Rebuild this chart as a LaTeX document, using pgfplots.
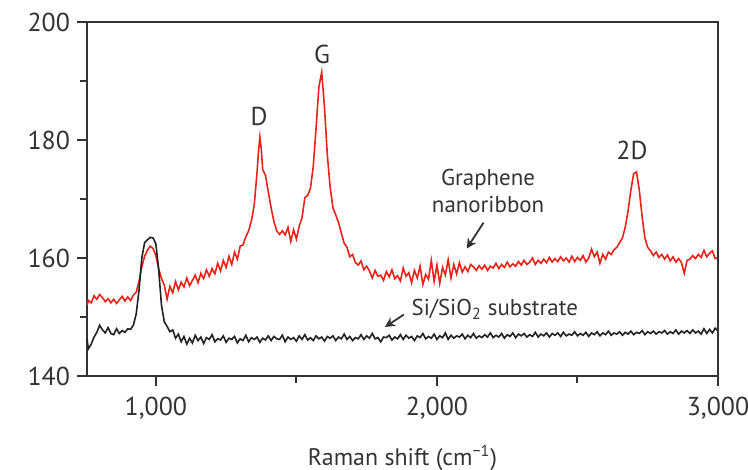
\documentclass[border=0pt]{standalone}
\usepackage{fontspec}
\setmainfont{PT Sans}
\usepackage{pgfplots}
\pgfplotsset{compat=1.18}
\usetikzlibrary{arrows.meta}

\definecolor{specred}{HTML}{E8231A}
\definecolor{specblack}{HTML}{222222}
\definecolor{axisgray}{HTML}{333333}

\begin{document}
\begin{tikzpicture}
\begin{axis}[
    scale only axis,
    width=315.5bp, height=177bp,
    xmin=755, xmax=3000,
    ymin=140, ymax=200,
    xtick={1000,2000,3000},
    xticklabels={{1,000},{2,000},{3,000}},
    minor xtick={1500,2500},
    ytick={140,160,180,200},
    minor ytick={150,170,190},
    tick pos=left,
    tick align=outside,
    major tick length=5bp,
    minor tick length=3.5bp,
    axis line style={axisgray, line width=1bp},
    every tick/.style={axisgray, line width=1bp},
    tick label style={font=\fontsize{13}{15}\selectfont, text=axisgray},
    xticklabel style={yshift=-2bp},
    /pgf/number format/assume math mode=true,
    xlabel={Raman shift (cm\textsuperscript{−1})},
    xlabel style={font=\fontsize{12}{14}\selectfont, text=axisgray, yshift=-6bp},
    clip=false,
]
\addplot[specred, line width=0.8bp] coordinates {
(755,152.0) (760,152.8) (770,152.4) (780,153.6) (790,153.0) (800,153.8) (810,153.3) (820,152.6) (830,153.1) (840,152.4)
(850,153.0) (860,152.3) (870,152.9) (880,153.5) (890,152.7) (900,153.4) (910,152.8) (920,153.7) (930,154.2) (940,156.0)
(950,158.5) (960,160.3) (970,161.3) (980,162.0) (990,161.6) (1000,160.4) (1010,158.2) (1020,156.5) (1030,155.4) (1040,153.0)
(1050,155.2) (1060,154.1) (1070,156.0) (1080,154.6) (1090,155.9) (1100,155.1) (1110,156.6) (1120,155.3) (1130,156.2) (1140,157.1)
(1150,155.8) (1160,157.4) (1170,156.5) (1180,158.0) (1190,156.9) (1200,158.2) (1210,157.3) (1220,159.1) (1230,157.8) (1240,159.6)
(1250,158.4) (1260,160.3) (1270,158.9) (1280,161.0) (1290,159.8) (1300,162.0) (1310,162.2) (1320,163.6) (1330,164.6) (1340,166.3)
(1350,169.0) (1360,174.5) (1365,178.0) (1370,180.5) (1375,178.5) (1380,175.0) (1390,174.0) (1400,171.2) (1410,168.5) (1420,166.2)
(1430,164.6) (1440,164.0) (1450,164.6) (1460,163.9) (1470,165.2) (1480,162.8) (1490,164.8) (1500,163.2) (1510,165.4) (1520,166.8)
(1530,170.2) (1540,170.6) (1550,171.8) (1560,175.5) (1570,182.0) (1580,189.0) (1590,191.5) (1600,185.5) (1610,177.5) (1620,172.0)
(1630,168.5) (1640,167.3) (1650,166.0) (1660,164.2) (1670,162.5) (1680,161.8) (1690,160.2) (1700,160.6) (1710,159.2) (1720,158.8)
(1730,159.5) (1740,158.0) (1750,158.6) (1760,157.8) (1770,156.6) (1780,157.9) (1790,156.9) (1800,157.1) (1810,156.2) (1820,157.7)
(1830,156.8) (1840,158.0) (1850,156.5) (1860,157.0) (1870,156.1) (1880,158.3) (1890,156.9) (1900,157.5) (1910,155.8) (1920,157.9)
(1930,156.6) (1940,158.6) (1950,155.5) (1960,157.2) (1970,156.4) (1980,159.6) (1990,156.0) (2000,158.8) (2010,155.7) (2020,158.4)
(2030,157.1) (2040,159.7) (2050,156.6) (2060,158.9) (2070,157.3) (2080,159.2) (2090,157.6) (2100,158.5) (2110,157.7) (2120,158.9)
(2130,158.5) (2140,157.9) (2150,158.7) (2160,158.1) (2170,158.8) (2180,157.9) (2190,158.6) (2200,158.3) (2210,159.1) (2220,158.2)
(2230,158.9) (2240,158.4) (2250,159.3) (2260,158.5) (2270,159.0) (2280,158.6) (2290,159.4) (2300,158.8) (2310,159.6) (2320,158.9)
(2330,159.3) (2340,160.0) (2350,158.9) (2360,159.6) (2370,159.1) (2380,159.8) (2390,159.2) (2400,160.1) (2410,159.3) (2420,159.9)
(2430,159.4) (2440,160.2) (2450,159.5) (2460,160.0) (2470,159.3) (2480,160.3) (2490,159.4) (2500,160.1) (2510,159.6) (2520,160.4)
(2530,159.3) (2540,160.0) (2550,161.5) (2560,160.2) (2570,161.0) (2580,159.1) (2590,160.6) (2600,159.8) (2610,161.0) (2620,160.6)
(2630,161.4) (2640,161.8) (2650,162.6) (2660,163.4) (2670,165.2) (2680,168.0) (2690,171.5) (2700,174.3) (2710,174.6) (2720,171.5)
(2730,167.0) (2740,163.4) (2750,161.8) (2760,161.2) (2770,160.4) (2780,161.0) (2790,160.1) (2800,160.6) (2810,159.8) (2820,160.5)
(2830,159.5) (2840,160.2) (2850,159.3) (2860,159.9) (2870,159.2) (2880,157.4) (2890,159.6) (2900,159.8) (2910,160.4) (2920,159.9)
(2930,160.6) (2940,160.1) (2950,161.3) (2960,160.2) (2970,160.8) (2980,161.2) (2990,159.9) (3000,160.1)
};
\addplot[specblack, line width=0.8bp] coordinates {
(755,146.3) (760,144.6) (770,145.4) (780,146.6) (790,147.4) (800,148.6) (810,147.8) (820,147.3) (830,148.2) (840,147.2)
(850,147.0) (860,148.0) (870,147.2) (880,147.7) (890,147.4) (900,148.0) (910,147.9) (920,148.6) (930,150.5) (940,154.5)
(950,160.0) (960,162.6) (970,163.1) (980,163.5) (990,163.4) (1000,162.4) (1010,158.0) (1020,152.0) (1030,149.2) (1040,148.4)
(1050,147.5) (1060,147.8) (1070,146.4) (1080,147.1) (1090,145.8) (1100,146.7) (1110,145.4) (1120,146.4) (1130,145.6) (1140,146.9)
(1150,146.0) (1160,146.6) (1170,145.5) (1180,146.5) (1190,146.2) (1200,147.0) (1210,145.8) (1220,146.3) (1230,146.1) (1240,146.8)
(1250,145.7) (1260,146.4) (1270,146.2) (1280,146.7) (1290,145.6) (1300,146.3) (1310,146.0) (1320,146.9) (1330,145.8) (1340,146.5)
(1350,146.2) (1360,146.6) (1370,145.7) (1380,146.4) (1390,146.1) (1400,146.8) (1410,146.0) (1420,146.7) (1430,146.3) (1440,146.2)
(1450,146.9) (1460,145.8) (1470,146.6) (1480,146.2) (1490,146.5) (1500,145.9) (1510,146.8) (1520,146.2) (1530,147.0) (1540,146.1)
(1550,146.5) (1560,146.0) (1570,146.8) (1580,146.3) (1590,146.6) (1600,145.9) (1610,146.7) (1620,146.4) (1630,146.8) (1640,146.0)
(1650,146.6) (1660,146.3) (1670,147.1) (1680,146.2) (1690,146.7) (1700,146.0) (1710,146.5) (1720,146.3) (1730,147.0) (1740,146.2)
(1750,146.8) (1760,146.4) (1770,147.2) (1780,146.3) (1790,146.5) (1800,145.8) (1810,146.6) (1820,146.5) (1830,146.9) (1840,146.1)
(1850,146.6) (1860,146.3) (1870,147.0) (1880,146.2) (1890,146.9) (1900,146.4) (1910,146.7) (1920,146.0) (1930,146.8) (1940,146.5)
(1950,147.2) (1960,146.3) (1970,146.7) (1980,146.4) (1990,147.1) (2000,146.2) (2010,146.8) (2020,146.5) (2030,147.3) (2040,146.2)
(2050,146.9) (2060,146.4) (2070,146.8) (2080,146.6) (2090,147.1) (2100,146.3) (2110,146.9) (2120,146.5) (2130,147.2) (2140,146.4)
(2150,146.8) (2160,146.5) (2170,147.0) (2180,146.6) (2190,147.3) (2200,146.5) (2210,146.9) (2220,146.6) (2230,147.2) (2240,146.4)
(2250,147.0) (2260,146.7) (2270,147.3) (2280,146.5) (2290,147.1) (2300,146.8) (2310,147.2) (2320,146.6) (2330,147.0) (2340,146.7)
(2350,147.4) (2360,146.6) (2370,147.1) (2380,146.8) (2390,147.3) (2400,146.6) (2410,147.2) (2420,146.9) (2430,147.3) (2440,146.7)
(2450,147.4) (2460,146.8) (2470,147.1) (2480,146.9) (2490,147.5) (2500,146.8) (2510,147.2) (2520,146.9) (2530,147.4) (2540,146.7)
(2550,147.3) (2560,147.0) (2570,147.5) (2580,146.8) (2590,147.3) (2600,147.0) (2610,147.6) (2620,146.9) (2630,147.3) (2640,147.1)
(2650,147.5) (2660,146.9) (2670,147.4) (2680,147.1) (2690,147.6) (2700,147.0) (2710,147.4) (2720,147.2) (2730,147.7) (2740,147.0)
(2750,147.5) (2760,147.2) (2770,147.6) (2780,147.1) (2790,147.5) (2800,147.3) (2810,147.7) (2820,147.1) (2830,147.5) (2840,147.2)
(2850,147.8) (2860,147.1) (2870,147.6) (2880,147.3) (2890,147.7) (2900,147.2) (2910,147.8) (2920,147.3) (2930,147.6) (2940,147.1)
(2950,148.0) (2960,147.2) (2970,147.9) (2980,147.3) (2990,148.1) (3000,147.6)
};
% box lines on top and right
\draw[axisgray, line width=1bp] (rel axis cs:0,1) -- (rel axis cs:1,1) -- (rel axis cs:1,0);
% peak labels
\node[font=\fontsize{13}{15}\selectfont, text=axisgray] at (axis cs:1367,184) {D};
\node[font=\fontsize{13}{15}\selectfont, text=axisgray] at (axis cs:1591,194.5) {G};
\node[font=\fontsize{13}{15}\selectfont, text=axisgray] at (axis cs:2694,178.2) {2D};
% series labels
\node[font=\fontsize{11.5}{13.5}\selectfont, text=axisgray, align=center] at (axis cs:2182,171.3) {Graphene\\nanoribbon};
\draw[-{Stealth[length=5bp,width=5bp]}, axisgray, line width=0.9bp] (axis cs:2166,166) -- (axis cs:2106,161.6);
\node[font=\fontsize{11.5}{13.5}\selectfont, text=axisgray, anchor=west] at (axis cs:1885,151.3) {Si/SiO\textsubscript{2} substrate};
\draw[-{Stealth[length=5bp,width=5bp]}, axisgray, line width=0.9bp] (axis cs:1882,150.4) -- (axis cs:1815,148.3);
\end{axis}
\pgfresetboundingbox
\path ([xshift=-43.5bp,yshift=-47bp]current axis.south west) rectangle ([xshift=15bp,yshift=11bp]current axis.north east);
\end{tikzpicture}
\end{document}
